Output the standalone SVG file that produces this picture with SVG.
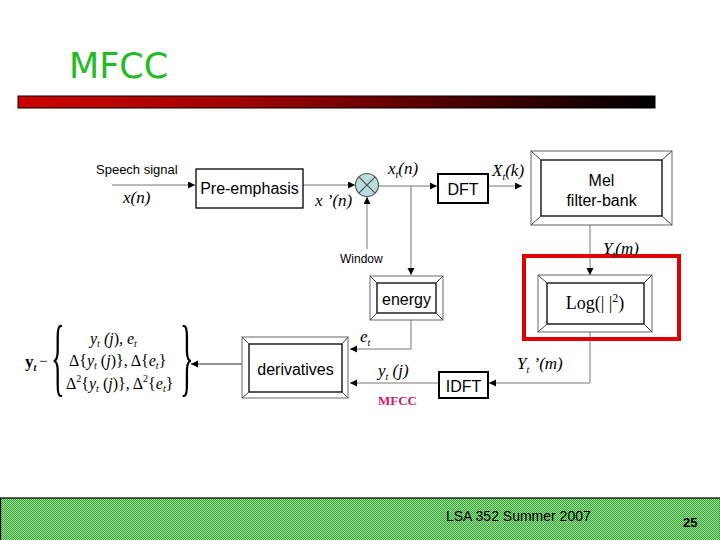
<svg xmlns="http://www.w3.org/2000/svg" width="720" height="540" viewBox="0 0 720 540">
<defs>
<linearGradient id="bar" x1="0" y1="0" x2="1" y2="0">
<stop offset="0" stop-color="#cc0000"/>
<stop offset="0.35" stop-color="#a00000"/>
<stop offset="1" stop-color="#000000"/>
</linearGradient>
<pattern id="chk" width="2" height="2" patternUnits="userSpaceOnUse">
<rect width="2" height="2" fill="#a4d89e"/>
<rect width="1" height="1" fill="#30aa30"/>
<rect x="1" y="1" width="1" height="1" fill="#30aa30"/>
</pattern>
<marker id="ah" markerUnits="userSpaceOnUse" markerWidth="8" markerHeight="8" refX="7" refY="3.5" orient="auto">
<path d="M0,0 L7,3.5 L0,7 z" fill="#000"/>
</marker>
</defs>
<style>
.sans{font-family:"Liberation Sans",Arial,sans-serif;fill:#000}
.ser{font-family:"Liberation Serif","Times New Roman",serif;fill:#000}
.it{font-style:italic}
.plain{fill:#fff;stroke:#000;stroke-width:1.3}
.bold2{fill:#fff;stroke:#000;stroke-width:2}
.outer{fill:#fff;stroke:#666;stroke-width:1}
.inner{fill:#fff;stroke:#000;stroke-width:1.3}
.bev{stroke:#444;stroke-width:1;fill:none}
.con{fill:none;stroke:#777;stroke-width:1}
</style>
<rect width="720" height="540" fill="#fff"/>
<text x="69" y="78" font-family="DejaVu Sans,Verdana,sans-serif" font-size="35" fill="#22bb22">MFCC</text>
<rect x="18" y="96" width="637" height="12" fill="url(#bar)" stroke="#000" stroke-width="1"/>

<g id="connectors">
<line class="con" x1="112" y1="185" x2="195" y2="185" marker-end="url(#ah)"/>
<line class="con" x1="303" y1="185" x2="355" y2="185" marker-end="url(#ah)"/>
<line class="con" x1="367" y1="249" x2="367" y2="197" marker-end="url(#ah)"/>
<line class="con" x1="379" y1="186" x2="437" y2="186" marker-end="url(#ah)"/>
<line class="con" x1="411" y1="186" x2="411" y2="275" marker-end="url(#ah)"/>
<line class="con" x1="488" y1="186" x2="522" y2="186" marker-end="url(#ah)"/>
<line class="con" x1="590" y1="225" x2="590" y2="275" marker-end="url(#ah)"/>
<polyline class="con" points="590,332 590,383 489,383" marker-end="url(#ah)"/>
<line class="con" x1="438" y1="383" x2="350" y2="383" marker-end="url(#ah)"/>
<polyline class="con" points="411,320 411,349 350,349" marker-end="url(#ah)"/>
<line x1="242" y1="364" x2="191" y2="364" stroke="#222" stroke-width="1" marker-end="url(#ah)"/>
</g>

<g id="preemphasis">
<rect class="plain" x="196" y="169" width="107" height="39"/>
<text class="sans" x="249.5" y="194" font-size="16" text-anchor="middle">Pre-emphasis</text>
</g>

<g id="multiplier">
<circle cx="367" cy="185" r="11.5" fill="#b9dcdc" stroke="#555" stroke-width="1.2"/>
<line x1="358.9" y1="176.9" x2="375.1" y2="193.1" stroke="#555" stroke-width="1.2"/>
<line x1="375.1" y1="176.9" x2="358.9" y2="193.1" stroke="#555" stroke-width="1.2"/>
</g>

<g id="dft">
<rect class="bold2" x="438" y="174" width="50" height="29"/>
<text class="sans" x="463" y="195" font-size="16" text-anchor="middle">DFT</text>
</g>

<g id="melfilterbank">
<rect class="outer" x="531" y="151" width="141" height="74"/>
<rect class="inner" x="541" y="160" width="121" height="56"/>
<path class="bev" d="M531,151 L541,160 M672,151 L662,160 M531,225 L541,216 M672,225 L662,216"/>
<text class="sans" x="601.5" y="186" font-size="16" text-anchor="middle">Mel</text>
<text class="sans" x="601.5" y="206" font-size="16" text-anchor="middle">filter-bank</text>
</g>

<g id="log">
<rect class="outer" x="538" y="275" width="114" height="57"/>
<rect class="inner" x="547" y="283" width="97" height="41"/>
<path class="bev" d="M538,275 L547,283 M652,275 L644,283 M538,332 L547,324 M652,332 L644,324"/>
<text class="ser" x="595" y="309" font-size="18" text-anchor="middle">Log(|  |<tspan font-size="12" dy="-7">2</tspan><tspan dy="7">)</tspan></text>
</g>

<g id="energy">
<rect class="outer" x="370" y="276" width="73" height="44"/>
<rect class="inner" x="377" y="283" width="59" height="30"/>
<path class="bev" d="M370,276 L377,283 M443,276 L436,283 M370,320 L377,313 M443,320 L436,313"/>
<text class="sans" x="406.5" y="305" font-size="16" text-anchor="middle">energy</text>
</g>

<g id="idft">
<rect class="bold2" x="439" y="372" width="49" height="26"/>
<text class="sans" x="463.5" y="392" font-size="16" text-anchor="middle">IDFT</text>
</g>

<g id="derivatives">
<rect class="outer" x="242" y="337" width="106" height="61"/>
<rect class="inner" x="249" y="344" width="93" height="48"/>
<path class="bev" d="M242,337 L249,344 M348,337 L342,344 M242,398 L249,392 M348,398 L342,392"/>
<text class="sans" x="295.5" y="375" font-size="16" text-anchor="middle">derivatives</text>
</g>

<g id="redframe">
<rect x="524" y="256" width="155" height="83" fill="none" stroke="#e00000" stroke-width="4"/>
</g>

<g id="labels">
<text class="sans" x="96" y="174" font-size="13">Speech signal</text>
<text class="ser it" x="123" y="203" font-size="17">x(n)</text>
<text class="ser it" x="315" y="206" font-size="17">x ’(n)</text>
<text class="sans" x="340" y="263" font-size="12">Window</text>
<text class="ser it" x="388" y="174" font-size="17">x<tspan font-size="10" dy="4">t</tspan><tspan dy="-4">(n)</tspan></text>
<text class="ser it" x="492" y="176" font-size="17">X<tspan font-size="10" dy="4">t</tspan><tspan dy="-4">(k)</tspan></text>
<text class="ser it" x="603" y="254" font-size="17">Y<tspan font-size="10" dy="4">t</tspan><tspan dy="-4">(m)</tspan></text>
<text class="ser it" x="517" y="369" font-size="17">Y<tspan font-size="10" dy="4">t</tspan><tspan dy="-4"> ’(m)</tspan></text>
<text class="ser it" x="360" y="342" font-size="17">e<tspan font-size="10" dy="4">t</tspan></text>
<text class="ser it" x="378" y="376" font-size="17">y<tspan font-size="10" dy="4">t</tspan><tspan dy="-4"> (j)</tspan></text>
<text x="378" y="405" font-family="Liberation Serif,serif" font-weight="bold" font-size="13" fill="#cc1a66">MFCC</text>
</g>

<g id="formula">
<text class="ser" x="25" y="367" font-size="17" font-weight="bold">y<tspan font-size="10" dy="4" font-style="italic">t</tspan></text>
<text class="ser" x="39" y="366" font-size="15">−</text>
<text class="ser" transform="translate(51,385) scale(0.33,1)" font-size="86" fill="#222">{</text>
<text class="ser" transform="translate(180,385) scale(0.33,1)" font-size="86" fill="#222">}</text>
<text class="ser it" x="90" y="344" font-size="16">y<tspan font-size="10" dy="3">t</tspan><tspan dy="-3">  (</tspan>j<tspan font-style="normal">)</tspan>, e<tspan font-size="10" dy="3">t</tspan></text>
<text class="ser" x="69" y="366" font-size="16">Δ{<tspan font-style="italic">y</tspan><tspan font-size="10" dy="3" font-style="italic">t</tspan><tspan dy="-3">  (</tspan><tspan font-style="italic">j</tspan>)}, Δ{<tspan font-style="italic">e</tspan><tspan font-size="10" dy="3" font-style="italic">t</tspan><tspan dy="-3">}</tspan></text>
<text class="ser" x="66" y="389" font-size="16">Δ<tspan font-size="10" dy="-7">2</tspan><tspan dy="7">{</tspan><tspan font-style="italic">y</tspan><tspan font-size="10" dy="3" font-style="italic">t</tspan><tspan dy="-3">  (</tspan><tspan font-style="italic">j</tspan>)}, Δ<tspan font-size="10" dy="-7">2</tspan><tspan dy="7">{</tspan><tspan font-style="italic">e</tspan><tspan font-size="10" dy="3" font-style="italic">t</tspan><tspan dy="-3">}</tspan></text>
</g>

<g id="footer">
<rect x="0.5" y="498" width="720" height="43" fill="url(#chk)" stroke="#000" stroke-width="1.2"/>
<text class="sans" x="446" y="521" font-size="14" fill="#222">LSA 352 Summer 2007</text>
<text class="sans" x="683" y="527" font-size="13" font-weight="bold">25</text>
</g>
</svg>
